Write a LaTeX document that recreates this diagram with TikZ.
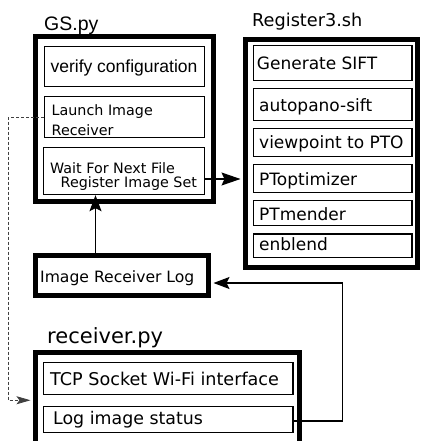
\documentclass[tikz,border=0pt]{standalone}
\usepackage{fontspec}
\setmainfont{DejaVu Sans}
\newfontfamily\djv{DejaVu Sans}
\newfontfamily\lib{Liberation Sans}
\usetikzlibrary{arrows.meta,calc}
\tikzset{
  outerbox/.style={draw=black, line width=5pt, inner sep=0pt, minimum width=#1},
  innerbox/.style={draw=black, line width=1.4pt, inner sep=0pt, minimum width=#1},
  lbl/.style={anchor=base west, inner sep=0pt, text=black},
  conn/.style={line width=1.2pt, draw=black},
  bigtip/.style={-{Stealth[length=19pt,width=13pt,inset=3pt]}},
  midtip/.style={-{Stealth[length=16pt,width=12pt,inset=3pt]}},
  dashconn/.style={line width=0.8pt, draw=black!75, dash pattern=on 3pt off 2pt, -{Stealth[length=14pt,width=8pt,inset=3pt]}}
}
\begin{document}
\begin{tikzpicture}[x=1pt,y=-1pt]
\useasboundingbox (0,0) rectangle (420,441);
\clip (0,0) rectangle (420,441);
% outer boxes
\node[outerbox=178pt, minimum height=164.5pt] (gs) at (124.5,119.25) {};
\node[outerbox=172pt, minimum height=227.5pt] (reg) at (331.5,153.25) {};
\node[outerbox=173pt, minimum height=40pt] (irl) at (122,275) {};
\node[outerbox=263.5pt, minimum height=107.5pt] (recv) at (167.25,406.25) {};
% titles
\node[lbl, font=\lib\fontsize{19.5}{22}\selectfont] (gst) at (44,31) {GS.py};
\node[lbl, font=\djv\fontsize{17.7}{20}\selectfont] (regt) at (252,27) {Register3.sh};
\node[lbl, font=\djv\fontsize{21}{24}\selectfont] (recvt) at (47,343) {receiver.py};
% GS inner
\node[innerbox=160pt, minimum height=40pt] (verify) at (124.5,66.5) {};
\node[innerbox=160pt, minimum height=41pt] (launch) at (124.5,117) {};
\node[innerbox=161pt, minimum height=47pt] (wait) at (124.25,171) {};
\node[anchor=base, inner sep=0pt, font=\lib\fontsize{17.5}{20}\selectfont] (verifyt) at (124,73) {verify configuration};
\node[lbl, font=\djv\fontsize{14.3}{17}\selectfont] (launcht1) at (51.5,115) {Launch Image};
\node[lbl, font=\djv\fontsize{14.3}{17}\selectfont] (launcht2) at (51.5,135) {Receiver};
\node[lbl, font=\djv\fontsize{14.3}{17}\selectfont] (waitt1) at (50,173.3) {Wait For Next File};
\node[lbl, font=\djv\fontsize{14.3}{17}\selectfont] (waitt2) at (60.5,187) {Register Image Set};
% Register inner
\node[innerbox=158.5pt, minimum height=35pt] (sift) at (332.75,63) {};
\node[innerbox=158.5pt, minimum height=32pt] (auto) at (332.75,104.5) {};
\node[innerbox=158.5pt, minimum height=28pt] (view) at (332.75,142.5) {};
\node[innerbox=158.5pt, minimum height=28pt] (opt) at (332.75,178.5) {};
\node[innerbox=158.5pt, minimum height=25pt] (mend) at (332.75,213) {};
\node[innerbox=158.5pt, minimum height=23.5pt] (blend) at (332.75,245.75) {};
\node[lbl, font=\djv\fontsize{17}{20}\selectfont] (siftt) at (256.7,70) {Generate SIFT};
\node[lbl, font=\djv\fontsize{17}{20}\selectfont] (autot) at (259,111.7) {autopano-sift};
\node[lbl, font=\djv\fontsize{17}{20}\selectfont] (viewt) at (259,148) {viewpoint to PTO};
\node[lbl, font=\djv\fontsize{17}{20}\selectfont] (optt) at (259,185) {PToptimizer};
\node[lbl, font=\djv\fontsize{17}{20}\selectfont] (mendt) at (259,220) {PTmender};
\node[lbl, font=\djv\fontsize{17}{20}\selectfont] (blendt) at (259,250.7) {enblend};
% image receiver log
\node[lbl, font=\djv\fontsize{15.6}{18}\selectfont] (irlt) at (40,282.7) {Image Receiver Log};
% receiver inner
\node[innerbox=249.5pt, minimum height=32pt] (tcp) at (168.25,378.5) {};
\node[innerbox=249.5pt, minimum height=26pt] (log) at (168.25,419.5) {};
\node[lbl, font=\djv\fontsize{17.6}{20}\selectfont] (tcpt) at (50,385) {TCP Socket Wi-Fi interface};
\node[lbl, font=\djv\fontsize{17.4}{20}\selectfont] (logt) at (53,424) {Log image status};
% connectors
\draw[conn, bigtip, shorten >=2.5pt] ([yshift=-8pt]wait.east) -- ([yshift=-8pt]wait.east -| reg.west);
\draw[conn, midtip] ([xshift=62.5pt]irl.north west) -- ([xshift=62.5pt]irl.north west |- wait.south);
\draw[conn, midtip, shorten >=2.5pt] ([yshift=-1.5pt]log.east) -- ++(49,0) |- ([yshift=-8pt]irl.east);
\draw[dashconn, shorten >=2.5pt] (launch.west) -- ++(-35.5,0) |- ([yshift=6pt]recv.west);
\end{tikzpicture}
\end{document}
